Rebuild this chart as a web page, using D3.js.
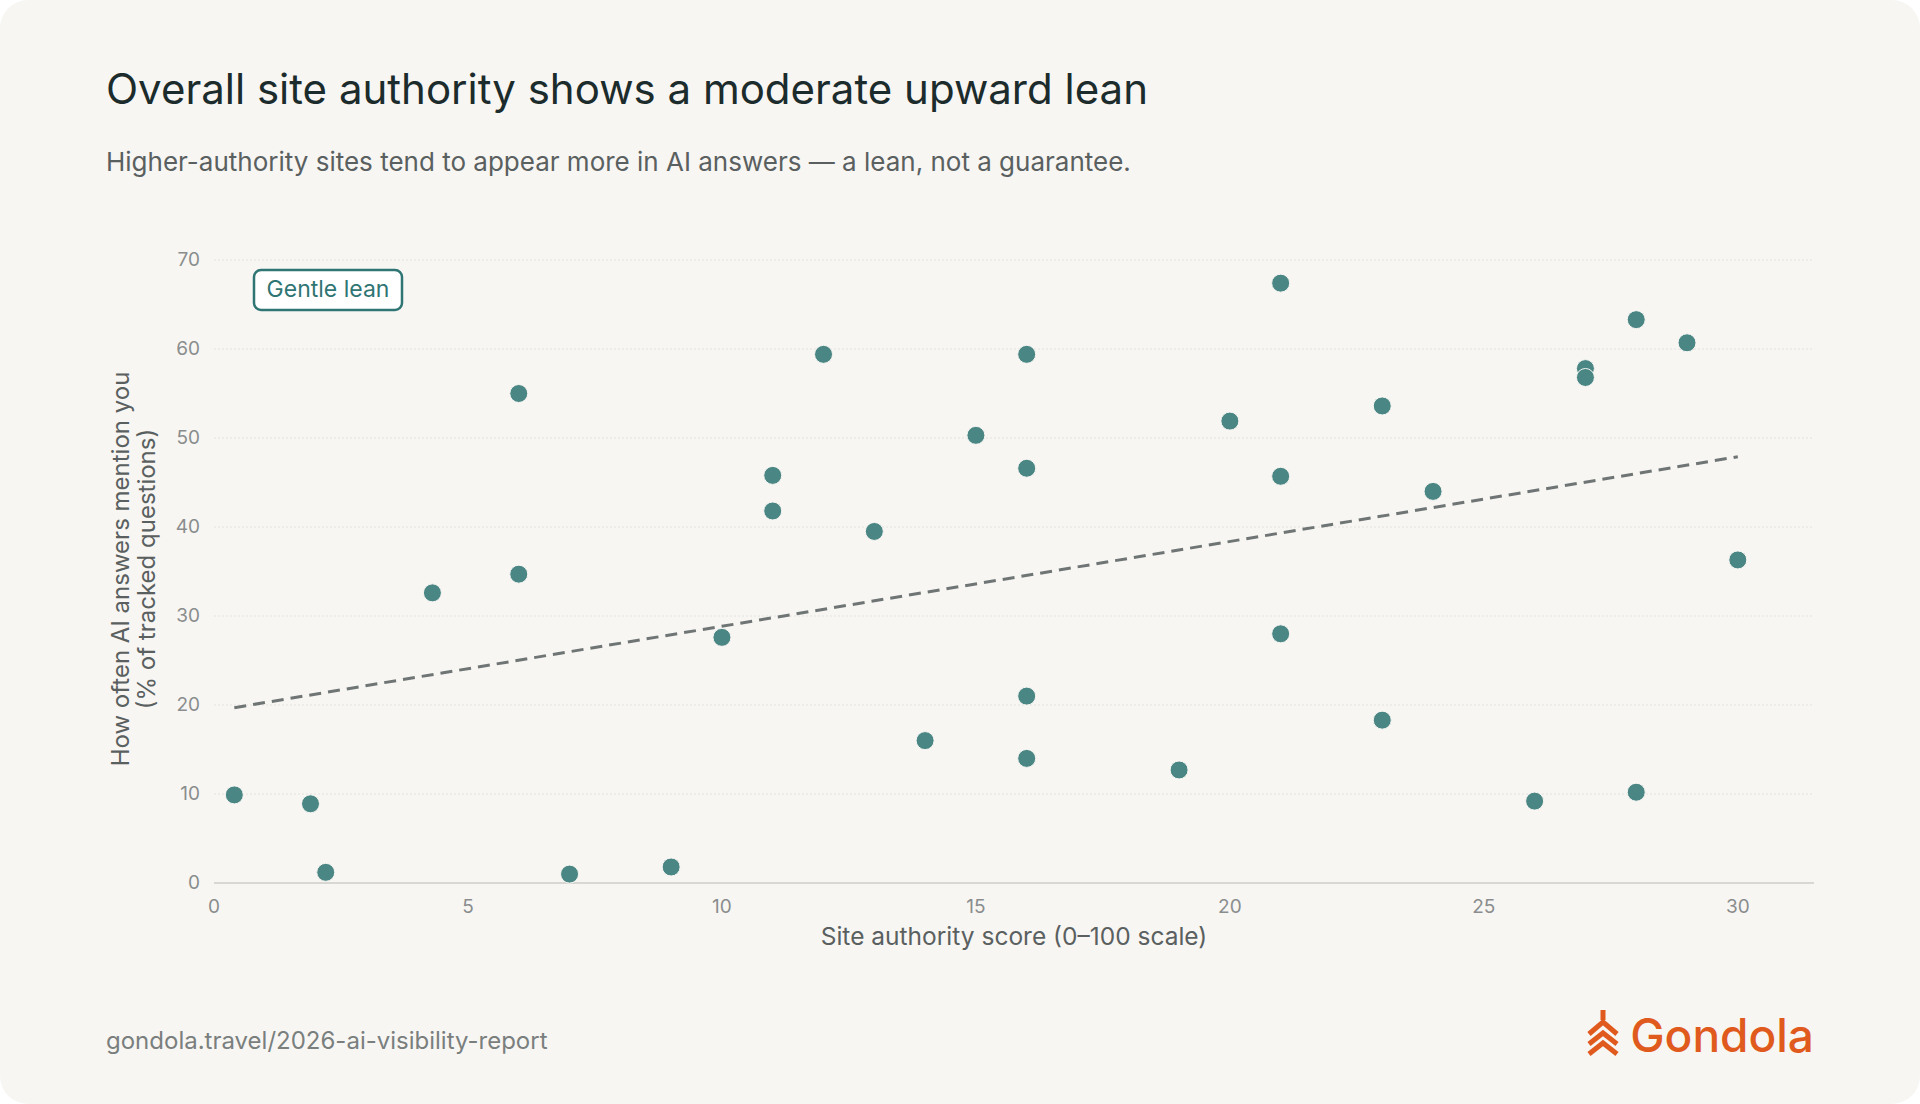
<!DOCTYPE html>
<html><head><meta charset="utf-8">
<script src="https://cdn.jsdelivr.net/npm/d3@7"></script>
<style>html,body{margin:0;padding:0;background:#fff;}svg{display:block;font-family:Inter,"Noto Sans",sans-serif;}</style>
</head><body>
<svg id="c" width="1920" height="1104"></svg>
<script>
const authority = [0.4,1.9,2.2,4.3,6,6,7,9,10,11,11,12,13,14,15,16,16,16,16,19,20,21,21,21,23,23,24,26,27,27,28,28,29,30];
const mentions  = [9.9,8.9,1.2,32.6,55,34.7,1,1.8,27.6,45.8,41.8,59.4,39.5,16,50.3,59.4,46.6,21,14,12.7,51.9,67.4,45.7,28,53.6,18.3,44,9.2,57.8,56.8,63.3,10.2,60.7,36.3];
const trendX = [0.4,30];
const trendY = [19.7,47.9];
const xTicks = [0,5,10,15,20,25,30];
const yTicks = [0,10,20,30,40,50,60,70];

const svg = d3.select("#c");
svg.append("rect").attr("x",0).attr("y",0).attr("width",1920).attr("height",1104).attr("rx",28).attr("fill","#f7f6f3");
svg.append("text").attr("x",106).attr("y",104).attr("font-size",42).attr("fill","#1c2b2b").text("Overall site authority shows a moderate upward lean");
svg.append("text").attr("x",106).attr("y",171).attr("font-size",26).attr("fill","#5a6060").text("Higher-authority sites tend to appear more in AI answers — a lean, not a guarantee.");

const x = d3.scaleLinear().domain([0,31.5]).range([214,1814]);
const y = d3.scaleLinear().domain([0,70]).range([883,260]);

const g = svg.append("g");
g.selectAll(".gl").data(yTicks.filter(d=>d>0)).join("line")
 .attr("x1",214).attr("x2",1814).attr("y1",d=>y(d)).attr("y2",d=>y(d))
 .attr("stroke","#e4e2de").attr("stroke-dasharray","2,2");
g.append("line").attr("x1",214).attr("x2",1814).attr("y1",y(0)).attr("y2",y(0)).attr("stroke","#cfcdc9").attr("stroke-width",1.5);

g.selectAll(".yt").data(yTicks).join("text").attr("x",200).attr("y",d=>y(d)+6)
 .attr("text-anchor","end").attr("font-size",19).attr("fill","#8a8d8d").text(d=>d);
g.selectAll(".xt").data(xTicks).join("text").attr("x",d=>x(d)).attr("y",913)
 .attr("text-anchor","middle").attr("font-size",19).attr("fill","#8a8d8d").text(d=>d);

svg.append("text").attr("x",1014).attr("y",945).attr("text-anchor","middle").attr("font-size",24.5).attr("fill","#5a6060").text("Site authority score (0–100 scale)");
const yl = svg.append("text").attr("transform","translate(129,569) rotate(-90)").attr("text-anchor","middle").attr("font-size",24).attr("fill","#5a6060");
yl.append("tspan").attr("x",0).attr("dy",0).text("How often AI answers mention you");
yl.append("tspan").attr("x",0).attr("dy",26).text("(% of tracked questions)");

g.append("line").attr("x1",x(trendX[0])).attr("y1",y(trendY[0])).attr("x2",x(trendX[1])).attr("y2",y(trendY[1]))
 .attr("stroke","#6f7574").attr("stroke-width",3).attr("stroke-dasharray","12,7");

g.selectAll("circle").data(authority.map((a,i)=>[a,mentions[i]])).join("circle")
 .attr("cx",d=>x(d[0])).attr("cy",d=>y(d[1])).attr("r",9).attr("fill","#4a8683").attr("stroke","#f7f6f3").attr("stroke-width",1);

svg.append("rect").attr("x",254).attr("y",270).attr("width",148).attr("height",40).attr("rx",7)
 .attr("fill","#fff").attr("stroke","#2f7573").attr("stroke-width",2.5);
svg.append("text").attr("x",328).attr("y",297).attr("text-anchor","middle").attr("font-size",23).attr("fill","#2f7573").text("Gentle lean");

svg.append("text").attr("x",106).attr("y",1049).attr("font-size",24).attr("fill","#7a7f7e").text("gondola.travel/2026-ai-visibility-report");

const logo = svg.append("g").attr("transform","translate(1603,1038)").attr("fill","none").attr("stroke","#e05a1e").attr("stroke-width",5).attr("stroke-linejoin","miter");
logo.append("path").attr("d","M0,-28 L0,-18 M-14,-4 L0,-16 L14,-4");
logo.append("path").attr("d","M-14,6 L0,-5 L14,6");
logo.append("path").attr("d","M-14,16 L0,5 L14,16");
svg.append("text").attr("x",1814).attr("y",1052).attr("text-anchor","end").attr("font-size",46).attr("font-weight",500).attr("fill","#e05a1e").text("Gondola");
</script>
</body></html>
